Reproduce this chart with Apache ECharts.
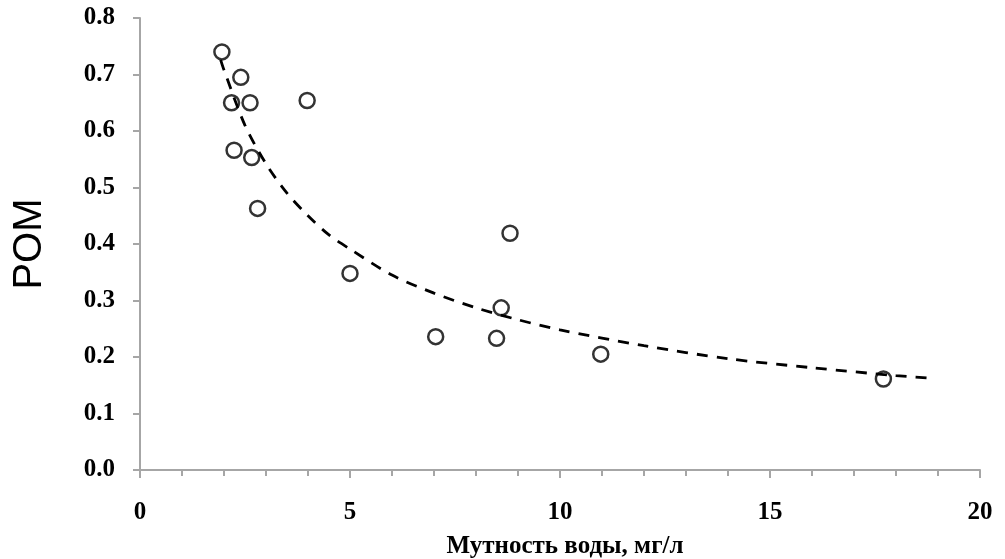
<!DOCTYPE html>
<html>
<head>
<meta charset="utf-8">
<script src="https://cdn.jsdelivr.net/npm/echarts@6/dist/echarts.min.js"></script>
<style>
  html, body { margin: 0; padding: 0; background: #fff; }
  #chart { width: 1005px; height: 559px; }
</style>
</head>
<body>
<div id="chart"></div>
<script>
// observed points: turbidity (mg/l) vs POM
var turbidity = [1.95, 2.40, 2.18, 2.62, 3.98, 2.24, 2.66, 2.80, 5.00, 8.81, 8.60, 7.04, 8.49, 10.97, 17.70]
var pom = [0.740, 0.695, 0.650, 0.650, 0.654, 0.566, 0.553, 0.463, 0.348, 0.419, 0.287, 0.236, 0.233, 0.205, 0.161]

// dashed trend line
var trendX = [1.92, 2.0, 2.5, 3.0, 3.5, 4.0, 4.5, 5.0, 6.0, 7.0, 8.0, 9.0, 10.0, 12.0, 14.0, 16.0, 18.0, 18.75]
var trendY = [0.726, 0.708, 0.610, 0.542, 0.490, 0.450, 0.416, 0.391, 0.345, 0.313, 0.287, 0.266, 0.248, 0.220, 0.197, 0.181, 0.167, 0.163]

var xTicks = [0, 5, 10, 15, 20]
var yTicks = [0, 0.1, 0.2, 0.3, 0.4, 0.5, 0.6, 0.7, 0.8]

var xName = 'Мутность воды, мг/л'
var yName = 'POM'

function pairs(xs, ys) {
  var out = []
  for (var i = 0; i < xs.length; i++) {
    out.push([xs[i], ys[i]])
  }
  return out
}

var chart = echarts.init(document.getElementById('chart'), null, { renderer: 'canvas' })

var axisGray = '#a6a6a6'
var labelFont = {
  color: '#000',
  fontFamily: 'Liberation Serif',
  fontWeight: 'bold',
  fontSize: 25
}

var option = {
  backgroundColor: '#fff',
  animation: false,
  grid: {
    left: 140,
    right: 25,
    top: 18,
    bottom: 89,
    outerBoundsMode: 'none'
  },
  xAxis: {
    type: 'value',
    min: xTicks[0],
    max: xTicks[xTicks.length - 1],
    interval: 5,
    name: xName,
    nameLocation: 'middle',
    nameGap: 64,
    nameTextStyle: {
      color: '#000',
      fontFamily: 'Liberation Serif',
      fontWeight: 'bold',
      fontSize: 25,
      padding: [0, 0, 0, 10]
    },
    axisLine: { lineStyle: { color: axisGray, width: 2 } },
    axisTick: { show: true, length: 8, lineStyle: { color: axisGray, width: 2 } },
    minorTick: { show: true, splitNumber: 5, length: 6, lineStyle: { color: axisGray, width: 2 } },
    splitLine: { show: false },
    axisLabel: Object.assign({ margin: 30 }, labelFont)
  },
  yAxis: {
    type: 'value',
    min: yTicks[0],
    max: yTicks[yTicks.length - 1],
    interval: 0.1,
    name: yName,
    nameLocation: 'middle',
    nameRotate: 90,
    nameGap: 90,
    nameTextStyle: {
      color: '#000',
      fontFamily: 'Liberation Sans',
      fontSize: 40
    },
    axisLine: { show: true, lineStyle: { color: axisGray, width: 2 } },
    axisTick: { show: true, length: 7, lineStyle: { color: axisGray, width: 2 } },
    splitLine: { show: false },
    axisLabel: Object.assign({
      margin: 25,
      formatter: function (v) { return v.toFixed(1) }
    }, labelFont)
  },
  series: [{
    name: 'points',
    type: 'scatter',
    symbol: 'circle',
    symbolSize: 15,
    z: 2,
    itemStyle: {
      color: '#fff',
      borderColor: '#000',
      borderWidth: 2.5
    },
    data: pairs(turbidity, pom)
  }, {
    name: 'trend',
    type: 'line',
    smooth: 0.3,
    showSymbol: false,
    symbol: 'none',
    z: 3,
    lineStyle: {
      color: '#000',
      width: 2.8,
      type: [11, 9]
    },
    data: pairs(trendX, trendY)
  }]
}

chart.setOption(option)
</script>
</body>
</html>
